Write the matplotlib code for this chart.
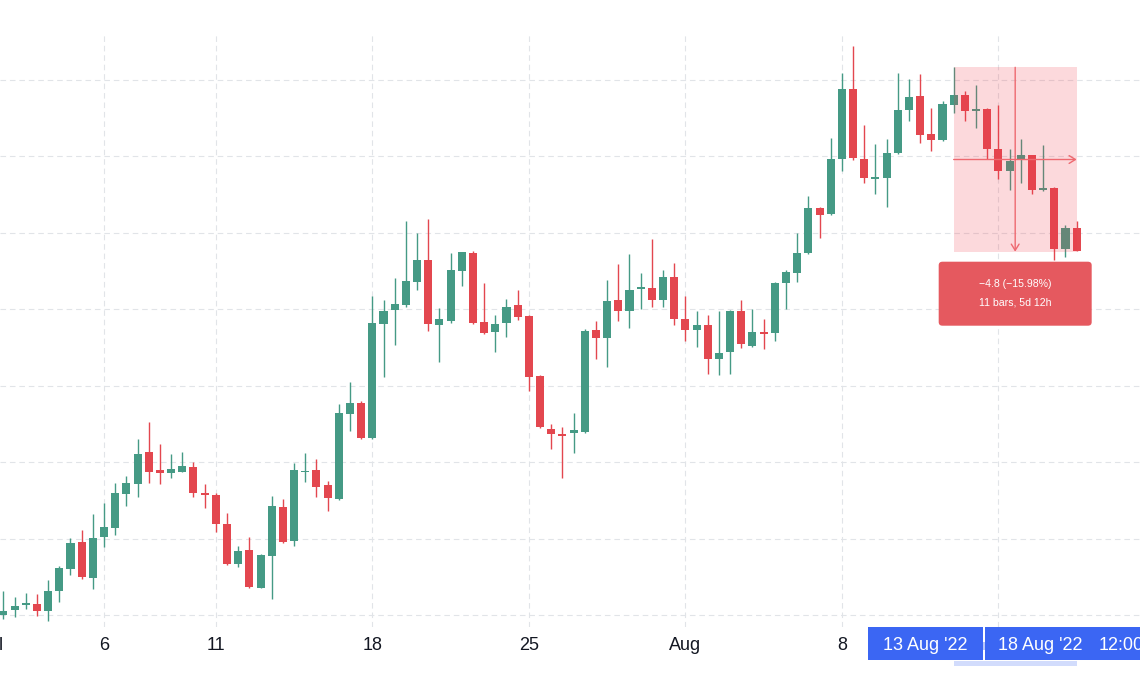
import matplotlib
matplotlib.use("Agg")
import matplotlib.pyplot as plt
import matplotlib.dates as mdates
import matplotlib.transforms as mtransforms
from matplotlib.patches import Rectangle, FancyBboxPatch
import pandas as pd
import numpy as np

FONT = ["Liberation Sans", "DejaVu Sans"]

# ---------------- data (12h candles, 1 Jul 12:00 -> 18 Aug 12:00, 2022) ----------------
start = "2022-07-01 12:00"
opens = [16.01, 16.13, 16.26, 16.31, 16.11, 16.64, 17.21, 17.93, 16.97, 18.04,
         18.29, 19.18, 19.44, 20.27, 19.79, 19.73, 19.76, 19.89, 19.21, 19.15,
         18.39, 17.34, 17.71, 16.73, 17.55, 18.83, 17.95, 19.74, 19.79, 19.41,
         19.04, 21.26, 21.56, 20.63, 23.62, 23.99, 24.12, 24.73, 25.29, 23.59,
         23.71, 25.01, 25.47, 23.66, 23.42, 23.64, 24.12, 23.83, 22.27, 20.88,
         20.74, 20.76, 20.79, 23.46, 23.25, 24.25, 23.96, 24.53, 24.57, 24.24,
         24.84, 23.74, 23.46, 23.59, 22.70, 22.88, 23.96, 23.05, 23.41, 23.38,
         24.68, 24.94, 25.48, 26.64, 26.50, 27.93, 29.76, 27.93, 27.40, 27.43,
         28.08, 29.21, 29.58, 28.58, 28.43, 29.35, 29.61, 29.19, 29.24, 28.19,
         27.63, 27.93, 28.03, 27.12, 27.17, 25.57, 26.14]
highs = [16.64, 16.48, 16.59, 16.57, 16.92, 17.29, 18.03, 18.23, 18.65, 18.93,
         19.47, 19.65, 20.62, 21.06, 20.48, 20.21, 20.28, 20.01, 19.44, 19.19,
         18.67, 17.82, 18.06, 17.61, 19.12, 19.04, 19.99, 20.25, 20.10, 19.52,
         21.53, 22.10, 21.61, 24.35, 24.25, 24.81, 26.32, 26.01, 26.36, 24.03,
         25.47, 25.51, 25.54, 24.70, 23.85, 24.27, 24.51, 23.85, 22.29, 21.00,
         20.92, 21.30, 23.48, 23.71, 24.77, 25.18, 25.44, 24.94, 25.83, 25.03,
         25.22, 24.35, 23.97, 23.85, 23.96, 23.99, 24.25, 24.01, 23.74, 24.72,
         25.03, 26.01, 26.97, 26.67, 28.49, 30.19, 30.89, 28.82, 28.33, 28.45,
         30.17, 30.02, 30.15, 29.26, 29.45, 30.35, 29.72, 29.87, 29.26, 29.34,
         28.19, 28.45, 28.05, 28.29, 27.21, 26.21, 26.32]
lows = [15.91, 15.97, 16.17, 15.99, 15.86, 16.34, 17.06, 16.94, 16.68, 17.80,
        18.11, 18.86, 19.09, 19.47, 19.44, 19.59, 19.75, 19.09, 18.82, 18.19,
        17.33, 17.27, 16.72, 16.71, 16.42, 17.89, 17.82, 19.50, 19.10, 18.73,
        19.02, 20.82, 20.61, 20.61, 22.23, 23.07, 24.06, 24.51, 23.44, 22.63,
        23.64, 24.61, 23.63, 23.36, 22.88, 23.27, 23.72, 21.88, 20.90, 20.34,
        19.60, 20.24, 20.77, 22.70, 22.50, 23.71, 23.51, 24.01, 24.07, 24.07,
        23.59, 23.17, 23.03, 22.31, 22.29, 22.31, 22.98, 23.03, 22.97, 23.17,
        24.00, 24.73, 25.46, 25.86, 26.48, 27.62, 27.91, 27.30, 27.01, 26.67,
        28.06, 28.93, 28.36, 28.14, 28.41, 29.14, 28.93, 28.75, 27.93, 27.40,
        27.12, 27.30, 27.01, 27.10, 25.29, 25.38, 25.52]
closes = [16.12, 16.25, 16.33, 16.11, 16.65, 17.23, 17.90, 17.00, 18.03, 18.30,
          19.19, 19.46, 20.22, 19.76, 19.73, 19.82, 19.91, 19.21, 19.16, 18.39,
          17.35, 17.69, 16.74, 17.58, 18.85, 17.93, 19.80, 19.78, 19.37, 19.08,
          21.28, 21.56, 20.63, 23.64, 23.97, 24.13, 24.74, 25.29, 23.62, 23.74,
          25.03, 25.49, 23.65, 23.39, 23.62, 24.07, 23.81, 22.23, 20.92, 20.74,
          20.70, 20.85, 23.44, 23.25, 24.23, 23.96, 24.51, 24.57, 24.25, 24.84,
          23.76, 23.46, 23.60, 22.70, 22.87, 23.97, 23.09, 23.40, 23.36, 24.69,
          24.99, 25.47, 26.64, 26.47, 27.93, 29.76, 27.95, 27.43, 27.45, 28.10,
          29.21, 29.55, 28.56, 28.43, 29.36, 29.61, 29.19, 29.24, 28.19, 27.63,
          27.89, 28.03, 27.12, 27.18, 25.57, 26.14, 25.54]

grid_prices = [16, 18, 20, 22, 24, 26, 28, 30]
tick_dates = ["2022-07-01", "2022-07-06", "2022-07-11", "2022-07-18", "2022-07-25",
              "2022-08-01", "2022-08-08", "2022-08-15"]
tick_labels = ["Jul", "6", "11", "18", "25", "Aug", "8", ""]

# measure tool: from bar 85 to bar 96
meas_i0, meas_i1 = 85, 96
meas_top, meas_bottom = 30.33, 25.51
meas_text1 = "\u22124.8 (\u221215.98%)"
meas_text2 = "11 bars, 5d 12h"
label_start = "13 Aug '22"
label_end = "18 Aug '22"
label_end_time = "12:00"

# ---------------- figure ----------------
UP, DOWN = "#459a85", "#e3474f"
W, H = 1140, 694
fig = plt.figure(figsize=(W / 100, H / 100), dpi=100)
AX_BOTTOM = 627
ax = fig.add_axes([0, (H - AX_BOTTOM) / H, 1, AX_BOTTOM / H])
for s in ax.spines.values():
    s.set_visible(False)
ax.set_xticks([])
ax.set_yticks([])

dates = pd.date_range(start, periods=len(opens), freq="12h")
x = mdates.date2num(dates)
PXD = 22.36  # pixels per day
ax.set_xlim(x[0] - 3.4 / PXD, x[0] + (W - 3.4) / PXD)
ymax = 32.09
ymin = ymax - AX_BOTTOM / 38.25
ax.set_ylim(ymin, ymax)

# grid
gcol = "#e1e4e8"
dash = (0, (5, 3.5))
xt = mdates.date2num(pd.to_datetime(tick_dates))
ax.hlines(grid_prices, ax.get_xlim()[0], ax.get_xlim()[1], colors=gcol,
          linewidth=0.8, linestyles=[dash], zorder=0)
ax.vlines(xt, ymin, ymax - 33 / 38.25, colors=gcol, linewidth=0.8,
          linestyles=[dash], zorder=0)

# candles
o = np.array(opens); c = np.array(closes); hi = np.array(highs); lo = np.array(lows)
up = c >= o
cols = np.where(up, UP, DOWN)
ax.vlines(x, lo, hi, colors=cols, linewidth=1.0, zorder=2)
body_lo = np.minimum(o, c)
body_h = np.maximum(np.abs(c - o), 0.045)
ax.bar(x, body_h, bottom=body_lo, width=0.36, color=cols, linewidth=0, zorder=3)

# measurement overlay
mx0, mx1 = x[meas_i0], x[meas_i1]
mmid = (mx0 + mx1) / 2
ax.add_patch(Rectangle((mx0, meas_bottom), mx1 - mx0, meas_top - meas_bottom,
                       facecolor="#f23645", alpha=0.19, edgecolor="none", zorder=5))
lcol = "#ee6970"
ax.annotate("", xy=(mmid, meas_bottom), xytext=(mmid, meas_top),
            arrowprops=dict(arrowstyle="->,head_length=0.45,head_width=0.28",
                            color=lcol, lw=1.0, shrinkA=0, shrinkB=0), zorder=6)
ymid = (meas_top + meas_bottom) / 2
ax.annotate("", xy=(mx1, ymid), xytext=(mx0, ymid),
            arrowprops=dict(arrowstyle="->,head_length=0.45,head_width=0.28",
                            color=lcol, lw=1.0, shrinkA=0, shrinkB=0), zorder=6)

# label box
bw = 153 / PXD
bb, bt = ymax - 325.7 / 38.25, ymax - 261.7 / 38.25
ax.add_patch(FancyBboxPatch((mmid - bw / 2, bb), bw, bt - bb,
                            boxstyle="round,pad=0,rounding_size=0.17",
                            mutation_aspect=0.55, facecolor="#e5595f",
                            edgecolor="none", zorder=7))
ax.text(mmid, ymax - 284.3 / 38.25, meas_text1, ha="center", va="center",
        color="white", fontsize=7.6, family=FONT, zorder=8)
ax.text(mmid, ymax - 302.3 / 38.25, meas_text2, ha="center", va="center",
        color="white", fontsize=7.6, family=FONT, zorder=8)

# ---------------- time axis ----------------
tr = mtransforms.blended_transform_factory(ax.transData, fig.transFigure)
ylab = (H - 646) / H
for d, lab in zip(xt, tick_labels):
    if lab:
        ax.text(d, ylab, lab, transform=tr, ha="center", va="center",
                fontsize=13, color="#131722", family=FONT, clip_on=False)

blue = "#3b66f3"
yb0, yb1 = (H - 660) / H, (H - 627.3) / H
box1_l = mx0 - 86 / PXD
box2_l = mx1 - 92 / PXD
ax.add_patch(Rectangle((box1_l, yb0), (box2_l - 2 / PXD) - box1_l, yb1 - yb0,
                       transform=tr, facecolor=blue, edgecolor="none",
                       clip_on=False, zorder=10))
ax.add_patch(Rectangle((box2_l, yb0), 200 / PXD, yb1 - yb0,
                       transform=tr, facecolor=blue, edgecolor="none",
                       clip_on=False, zorder=10))
ax.add_patch(Rectangle((box2_l - 2 / PXD, (H - 650) / H), 2 / PXD, 8 / H,
                       transform=tr, facecolor="#b9c8fa", edgecolor="none",
                       clip_on=False, zorder=10))
ax.add_patch(Rectangle((mx0, (H - 666) / H), mx1 - mx0, 5.5 / H,
                       transform=tr, facecolor="#d2dcfc", edgecolor="none",
                       clip_on=False, zorder=10))
ax.text(mx0 - 71 / PXD, ylab, label_start, transform=tr, ha="left", va="center",
        fontsize=13, color="white", family=FONT, clip_on=False, zorder=11)
ax.text(mx1 - 79 / PXD, ylab, label_end, transform=tr, ha="left", va="center",
        fontsize=13, color="white", family=FONT, clip_on=False, zorder=11)
ax.text(mx1 + 22 / PXD, ylab, label_end_time, transform=tr, ha="left", va="center",
        fontsize=13, color="white", family=FONT, clip_on=False, zorder=11)

fig.savefig("out.png", dpi=100, facecolor="white")
